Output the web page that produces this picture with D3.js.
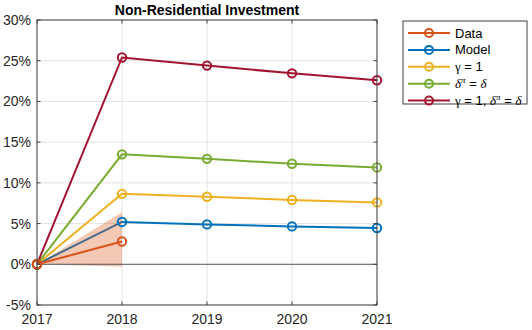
<!DOCTYPE html>
<meta charset="utf-8">
<script src="https://d3js.org/d3.v7.min.js"></script>
<style>
  body { margin: 0; background: #fff; }
  text { font-family: "Liberation Sans", Arial, sans-serif; }
</style>
<div id="chart"></div>
<script>
// years on the x axis
var years = [2017, 2018, 2019, 2020, 2021];
var yTicks = [-5, 0, 5, 10, 15, 20, 25, 30];

// series values (percent)
var dataVals = [0, 2.8];
var modelVals = [0, 5.2, 4.9, 4.65, 4.45];
var gammaVals = [0, 8.65, 8.3, 7.9, 7.6];
var deltaVals = [0, 13.5, 12.95, 12.35, 11.9];
var bothVals = [0, 25.4, 24.4, 23.45, 22.6];

// confidence band for the data
var bandLow = [0, -0.3];
var bandHigh = [0, 6.4];

var series = [
  { name: "Model", vals: modelVals, color: "#0072BD" },
  { name: "gamma", vals: gammaVals, color: "#EDB120" },
  { name: "delta", vals: deltaVals, color: "#77AC30" },
  { name: "both", vals: bothVals, color: "#A2142F" }
];

var W = 532, H = 330;
var L = 37, R = 377, T = 20, B = 305;

var svg = d3.select("#chart").append("svg")
  .attr("width", W).attr("height", H);

var x = d3.scaleLinear().domain([2017, 2021]).range([L, R]);
var y = d3.scaleLinear().domain([-5, 30]).range([B, T]);

// grid
svg.append("g").selectAll("line.gx").data(years).enter().append("line")
  .attr("x1", d => x(d)).attr("x2", d => x(d))
  .attr("y1", T).attr("y2", B)
  .attr("stroke", "#e3e3e3").attr("stroke-width", 1);
svg.append("g").selectAll("line.gy").data(yTicks).enter().append("line")
  .attr("x1", L).attr("x2", R)
  .attr("y1", d => y(d)).attr("y2", d => y(d))
  .attr("stroke", "#e3e3e3").attr("stroke-width", 1);

var line = d3.line().x((d, i) => x(years[i])).y(d => y(d));

// model lines
series.forEach(function (s) {
  svg.append("path").datum(s.vals)
    .attr("d", line)
    .attr("fill", "none").attr("stroke", s.color).attr("stroke-width", 2);
});

// band
var area = d3.area()
  .x((d, i) => x(years[i]))
  .y0((d, i) => y(bandLow[i]))
  .y1(d => y(d));
svg.append("path").datum(bandHigh)
  .attr("d", area)
  .attr("fill", "#D95319").attr("fill-opacity", 0.32);

// zero line
svg.append("line")
  .attr("x1", L).attr("x2", R).attr("y1", y(0)).attr("y2", y(0))
  .attr("stroke", "#5a5a5a").attr("stroke-width", 1);

// data line
svg.append("path").datum(dataVals)
  .attr("d", line)
  .attr("fill", "none").attr("stroke", "#D95319").attr("stroke-width", 2);

// markers
series.concat([{ name: "Data", vals: dataVals, color: "#D95319" }]).forEach(function (s) {
  svg.append("g").selectAll("circle").data(s.vals).enter().append("circle")
    .attr("cx", (d, i) => x(years[i]))
    .attr("cy", d => y(d))
    .attr("r", 4.2)
    .attr("fill", "none").attr("stroke", s.color).attr("stroke-width", 2);
});

// axes box
var axisColor = "#404040";
svg.append("rect")
  .attr("x", L).attr("y", T).attr("width", R - L).attr("height", B - T)
  .attr("fill", "none").attr("stroke", axisColor).attr("stroke-width", 1);

// ticks
svg.append("g").selectAll("line").data(years).enter().append("line")
  .attr("x1", d => x(d)).attr("x2", d => x(d))
  .attr("y1", B).attr("y2", B - 3.5).attr("stroke", axisColor);
svg.append("g").selectAll("line").data(years).enter().append("line")
  .attr("x1", d => x(d)).attr("x2", d => x(d))
  .attr("y1", T).attr("y2", T + 3.5).attr("stroke", axisColor);
svg.append("g").selectAll("line").data(yTicks).enter().append("line")
  .attr("x1", L).attr("x2", L + 3.5)
  .attr("y1", d => y(d)).attr("y2", d => y(d)).attr("stroke", axisColor);
svg.append("g").selectAll("line").data(yTicks).enter().append("line")
  .attr("x1", R).attr("x2", R - 3.5)
  .attr("y1", d => y(d)).attr("y2", d => y(d)).attr("stroke", axisColor);

// tick labels
svg.append("g").selectAll("text").data(years).enter().append("text")
  .attr("x", d => x(d)).attr("y", 324)
  .attr("text-anchor", "middle")
  .style("font-size", "14px").attr("fill", "#262626")
  .text(d => d);
svg.append("g").selectAll("text").data(yTicks).enter().append("text")
  .attr("x", 31).attr("y", d => y(d) + 5)
  .attr("text-anchor", "end")
  .style("font-size", "14px").attr("fill", "#262626")
  .text(d => d + "%");

// title
svg.append("text")
  .attr("x", (L + R) / 2).attr("y", 15)
  .attr("text-anchor", "middle")
  .style("font-size", "14px").style("font-weight", "bold")
  .text("Non-Residential Investment");

// legend
var legX = 403, legY = 21, legW = 124, legH = 83;
var lg = svg.append("g");
lg.append("rect")
  .attr("x", legX).attr("y", legY).attr("width", legW).attr("height", legH)
  .attr("fill", "#fff").attr("stroke", axisColor).attr("stroke-width", 1);

var legItems = [
  { color: "#D95319", parts: [["Data", ""]] },
  { color: "#0072BD", parts: [["Model", ""]] },
  { color: "#EDB120", parts: [["γ", "g"], [" = 1", ""]] },
  { color: "#77AC30", parts: [["δ", "i"], ["π", "sup"], [" = ", "down"], ["δ", "i"]] },
  { color: "#A2142F", parts: [["γ", "g"], [" = 1, ", ""], ["δ", "i"], ["π", "sup"], [" = ", "down"], ["δ", "i"]] }
];

legItems.forEach(function (it, i) {
  var cy = 33 + i * 16.9;
  lg.append("line").attr("x1", 408).attr("x2", 450)
    .attr("y1", cy).attr("y2", cy)
    .attr("stroke", it.color).attr("stroke-width", 2);
  lg.append("circle").attr("cx", 429).attr("cy", cy).attr("r", 4)
    .attr("fill", "none").attr("stroke", it.color).attr("stroke-width", 2);
  var t = lg.append("text").attr("x", 455).attr("y", cy + 4.5)
    .style("font-size", "13px").attr("fill", "#000");
  it.parts.forEach(function (p) {
    var ts = t.append("tspan").text(p[0]);
    if (p[1] === "g") ts.style("font-family", "'Liberation Serif', serif");
    if (p[1] === "i") ts.style("font-style", "italic").style("font-family", "'Liberation Serif', serif");
    if (p[1] === "sup") ts.style("font-style", "italic").style("font-family", "'Liberation Serif', serif")
      .style("font-size", "9px").attr("dy", -5);
    if (p[1] === "down") ts.attr("dy", 5);
  });
});
</script>
